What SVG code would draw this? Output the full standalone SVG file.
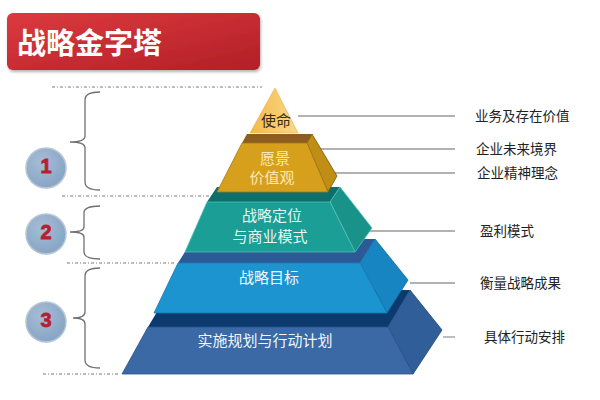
<svg xmlns="http://www.w3.org/2000/svg" width="600" height="400" viewBox="0 0 600 400">
<defs>
<linearGradient id="gTitle" x1="0" y1="0" x2="1" y2="1">
<stop offset="0" stop-color="#dc3a3f"/>
<stop offset="1" stop-color="#b21f27"/>
</linearGradient>
<linearGradient id="gTri" x1="0" y1="0" x2="1" y2="0">
<stop offset="0" stop-color="#f3b94a"/>
<stop offset="0.6" stop-color="#f7cc6e"/>
<stop offset="1" stop-color="#f9d98a"/>
</linearGradient>
<radialGradient id="gCirc" cx="0.4" cy="0.35" r="0.7">
<stop offset="0" stop-color="#a6bdd6"/>
<stop offset="1" stop-color="#86a3c4"/>
</radialGradient>
<filter id="sh" x="-10%" y="-10%" width="130%" height="140%">
<feDropShadow dx="1" dy="2" stdDeviation="1.5" flood-color="#000" flood-opacity="0.3"/>
</filter>
</defs>
<style>
text{font-family:"Noto Sans CJK SC","Noto Sans",sans-serif}
.dot{stroke:#7a7a7a;stroke-width:1;stroke-dasharray:3 2 1 2;fill:none}
.brace{stroke:#707070;stroke-width:1.3;fill:none}
.lead{stroke:#999999;stroke-width:1.3}
.lbl{font-size:13.5px;fill:#222}
.num{font-family:"Liberation Sans",Arial,sans-serif;font-size:20px;font-weight:700;fill:#b51f30;text-anchor:middle;stroke:#b51f30;stroke-width:0.8}
.pt{font-size:15px;text-anchor:middle}
.edge{stroke-width:0.8;stroke-linejoin:round}
</style>
<rect width="600" height="400" fill="#ffffff"/>
<g id="title">
<rect x="7" y="13" width="253" height="57" rx="6" fill="url(#gTitle)" filter="url(#sh)"/>
<text x="17" y="54" font-size="29" font-weight="700" fill="#ffffff">战略金字塔</text>
</g>
<g id="guides">
<line class="dot" x1="52" y1="87" x2="262" y2="87"/>
<line class="dot" x1="62" y1="196" x2="215" y2="196"/>
<line class="dot" x1="67" y1="263" x2="176" y2="263"/>
<line class="dot" x1="43" y1="374" x2="120" y2="374"/>
</g>
<g id="braces">
<path class="brace" d="M100,92 Q85,92 85,100 L85,136 Q85,142 70,142 Q85,142 85,148 L85,182 Q85,190 100,190"/>
<path class="brace" d="M100,206 Q84,206 84,213 L84,227 Q84,232 70,232 Q84,232 84,237 L84,252 Q84,259 100,259"/>
<path class="brace" d="M100,268 Q85,268 85,276 L85,312 Q85,318 73,318 Q85,318 85,324 L85,360 Q85,368 100,368"/>
</g>
<g id="circle-1">
<circle cx="46" cy="168" r="20" fill="url(#gCirc)" stroke="#b8c6d4" stroke-width="1.5"/>
<text class="num" x="46" y="173">1</text>
</g>
<g id="circle-2">
<circle cx="46" cy="234" r="20" fill="url(#gCirc)" stroke="#b8c6d4" stroke-width="1.5"/>
<text class="num" x="46" y="239">2</text>
</g>
<g id="circle-3">
<circle cx="46" cy="322" r="20" fill="url(#gCirc)" stroke="#b8c6d4" stroke-width="1.5"/>
<text class="num" x="46" y="327">3</text>
</g>
<g id="connectors">
<line class="lead" x1="298" y1="116" x2="455" y2="116"/>
<line class="lead" x1="310" y1="149" x2="455" y2="149"/>
<line class="lead" x1="334" y1="173" x2="455" y2="173"/>
<line class="lead" x1="368" y1="231" x2="455" y2="231"/>
<line class="lead" x1="410" y1="283" x2="455" y2="283"/>
<line class="lead" x1="443" y1="337" x2="455" y2="337"/>
</g>
<g id="layer-5">
<polygon points="170,290 410,290 388,327 148,327" fill="#0b3a6e"/>
<polygon class="edge" points="388,327 410,290 442,330 413,374" fill="#2f5e98" stroke="#1f4677"/>
<polygon class="edge" points="148,327 388,327 413,374 122,374" fill="#3a69a6" stroke="#2a5288"/>
<text class="pt" x="265" y="346" fill="#f2f6fb">实施规划与行动计划</text>
</g>
<g id="layer-4">
<polygon points="193,239 375,239 360,263 178,263" fill="#2c5a97"/>
<polygon class="edge" points="360,263 375,239 408,280 387,313" fill="#1785c2" stroke="#0f6aa0"/>
<polygon class="edge" points="178,263 360,263 387,313 154,313" fill="#1b94d0" stroke="#137bb2"/>
<text class="pt" x="269" y="283" fill="#f3f9fd">战略目标</text>
</g>
<g id="layer-3">
<polygon points="217,187 340,187 330,202 207,202" fill="#0d6e6a"/>
<polygon class="edge" points="330,202 340,187 372,228 355,252" fill="#19928a" stroke="#4cc2b8"/>
<polygon class="edge" points="207,202 330,202 355,252 185,252" fill="#1b9e95" stroke="#4cc2b8"/>
<text class="pt" x="272" y="221" fill="#e6f7f3">战略定位</text>
<text class="pt" x="270" y="242" fill="#e6f7f3">与商业模式</text>
</g>
<g id="layer-2">
<polygon points="247,134 312,134 307,143 242,143" fill="#8c5d1e"/>
<polygon class="edge" points="307,143 312,134 337,176 328,192" fill="#c08d15" stroke="#7a5410"/>
<polygon class="edge" points="242,143 307,143 328,192 217,192" fill="#d6a01c" stroke="#a67a12"/>
<text class="pt" x="275" y="164" fill="#fbe9b5">愿景</text>
<text class="pt" x="272" y="183" fill="#fbe9b5">价值观</text>
</g>
<g id="layer-1">
<polygon points="275,88 298,133 250,133" fill="url(#gTri)" stroke="#e8b04a" stroke-width="0.6"/>
<text class="pt" x="276" y="126" fill="#3a2a10">使命</text>
</g>
<g id="labels">
<text class="lbl" x="475" y="121">业务及存在价值</text>
<text class="lbl" x="476" y="154">企业未来境界</text>
<text class="lbl" x="477" y="178">企业精神理念</text>
<text class="lbl" x="480" y="236">盈利模式</text>
<text class="lbl" x="480" y="288">衡量战略成果</text>
<text class="lbl" x="484" y="342">具体行动安排</text>
</g>
</svg>
